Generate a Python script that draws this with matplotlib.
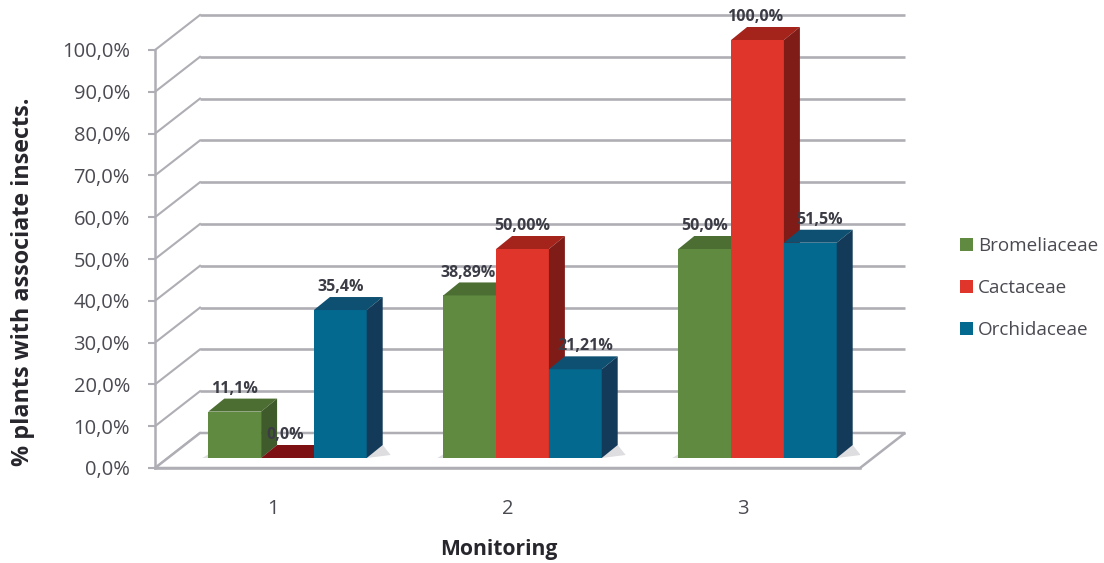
import matplotlib
matplotlib.use("Agg")
import matplotlib.pyplot as plt
from matplotlib.patches import Polygon, Patch

# Chart data
monitorings = ["1", "2", "3"]
families = ["Bromeliaceae", "Cactaceae", "Orchidaceae"]
bromeliaceae = [11.1, 38.89, 50.0]
cactaceae = [0.0, 50.0, 100.0]
orchidaceae = [35.4, 21.21, 51.5]
value_labels = [
    ["11,1%", "38,89%", "50,0%"],
    ["0,0%", "50,00%", "100,0%"],
    ["35,4%", "21,21%", "51,5%"],
]
y_ticks = list(range(0, 101, 10))

# Face, top and side shades per family
front_colors = ["#5f8a40", "#e0352a", "#04698f"]
top_colors = ["#4c6e32", "#a4231a", "#0d5072"]
side_colors = ["#3f5a2b", "#801c18", "#133a58"]
zero_top_color = "#7c1012"
grid_color = "#aeaeb4"
text_color = "#4a4a52"

W, H = 1104, 563
plt.rcParams["font.family"] = ["Open Sans", "DejaVu Sans"]
fig = plt.figure(figsize=(W / 100, H / 100), dpi=100, facecolor="white")
ax = fig.add_axes([155 / W, 1 - 468 / H, 705 / W, 418 / H])
ax.set_xlim(0.5, 3.5)
ax.set_ylim(0, 100)
ax.patch.set_alpha(0)

# Pixel-per-unit factors for the oblique projection
px_x = 705 / 3
px_y = 418 / 100
wall_dx, wall_dy = 45 / px_x, 35 / px_y
bar_dx, bar_dy = 16 / px_x, 13 / px_y
base_lift = 10 / px_y
bar_w = 52.8 / px_x
group_shift = 15 / px_x

# Back wall gridlines and side wall diagonals
for v in y_ticks:
    ax.plot([0.5 + wall_dx, 3.5 + wall_dx], [v + wall_dy] * 2, color=grid_color,
            lw=1.9, clip_on=False, zorder=1, solid_capstyle="butt")
    ax.plot([0.5, 0.5 + wall_dx], [v, v + wall_dy], color=grid_color,
            lw=1.5, clip_on=False, zorder=1)

# Floor outline
floor = Polygon([(0.5, 0), (3.5, 0), (3.5 + wall_dx, wall_dy), (0.5 + wall_dx, wall_dy)],
                closed=True, facecolor="white", edgecolor=grid_color, lw=1.8,
                clip_on=False, zorder=1.5)
ax.add_patch(floor)

# Contact shadow on the floor under each group
for i in range(len(monitorings)):
    c = i + 1 + group_shift
    l = c - 1.5 * bar_w - 6 / px_x
    r = c + 1.5 * bar_w
    ax.add_patch(Polygon([(l, base_lift), (r, base_lift),
                          (r + 24 / px_x, base_lift + 3 / px_y),
                          (r + 16 / px_x, base_lift + 13 / px_y),
                          (l + 10 / px_x, base_lift + 6 / px_y)],
                         closed=True, facecolor="#d6d6da", edgecolor="none",
                         alpha=0.8, zorder=2))

series = [bromeliaceae, cactaceae, orchidaceae]
label_nudge = [[0, -2, 0], [-2, 0, -2], [0, 10, 9]]

# Bars: front, top and side faces, left to right so each covers its neighbour
zo = 3
for i in range(len(monitorings)):
    for s, values in enumerate(series):
        v = values[i]
        x0 = i + 1 + group_shift + (s - 1.5) * bar_w
        x1 = x0 + bar_w
        y0 = base_lift
        y1 = base_lift + v
        top = zero_top_color if v == 0 else top_colors[s]
        ax.add_patch(Polygon([(x0, y0), (x1, y0), (x1, y1), (x0, y1)], closed=True,
                             facecolor=front_colors[s], edgecolor="none",
                             clip_on=False, zorder=zo))
        ax.add_patch(Polygon([(x0, y1), (x1, y1), (x1 + bar_dx, y1 + bar_dy), (x0 + bar_dx, y1 + bar_dy)],
                             closed=True, facecolor=top, edgecolor="none",
                             clip_on=False, zorder=zo))
        ax.add_patch(Polygon([(x1, y0), (x1 + bar_dx, y0 + bar_dy), (x1 + bar_dx, y1 + bar_dy), (x1, y1)],
                             closed=True, facecolor=side_colors[s], edgecolor="none",
                             clip_on=False, zorder=zo))
        zo += 0.1
        ax.annotate(value_labels[s][i], xy=((x0 + x1) / 2, y1),
                    xytext=(label_nudge[s][i] * 0.72, 16.5), textcoords="offset points",
                    ha="center", va="center", fontsize=11.5, fontweight="bold",
                    color="#3c3c46", zorder=20, annotation_clip=False)

# Axes, ticks and titles
for side in ("top", "right"):
    ax.spines[side].set_visible(False)
for side in ("left", "bottom"):
    ax.spines[side].set_color(grid_color)
    ax.spines[side].set_linewidth(1.8)
    ax.spines[side].set_zorder(2)
ax.set_yticks(y_ticks)
ax.set_yticklabels([f"{v},0%" for v in y_ticks], fontsize=14.5, color=text_color)
ax.tick_params(axis="y", length=5, width=1.5, color=grid_color, pad=13)
ax.set_xticks([1, 2, 3])
ax.set_xticklabels(monitorings, fontsize=14.5, color=text_color)
ax.tick_params(axis="x", length=0, pad=22)
ax.set_xlabel("Monitoring", fontsize=15.2, fontweight="bold", color="#26262c", va="center")
ax.xaxis.set_label_coords(499 / W, 1 - 550 / H, transform=fig.transFigure)
ax.set_ylabel("% plants with associate insects.", fontsize=16.8, fontweight="bold",
              color="#26262c", va="center")
ax.yaxis.set_label_coords(23 / W, 1 - 282 / H, transform=fig.transFigure)

# Legend
handles = [Patch(facecolor=c, edgecolor="none", label=f) for c, f in zip(front_colors, families)]
fig.legend(handles=handles, loc="center left", bbox_to_anchor=(960 / W, 1 - 288 / H),
           frameon=False, fontsize=13.6, labelcolor=text_color, handlelength=0.69,
           handleheight=0.69, handletextpad=0.27, labelspacing=1.26,
           borderaxespad=0, borderpad=0)

fig.savefig("out.png", dpi=100, facecolor="white")
